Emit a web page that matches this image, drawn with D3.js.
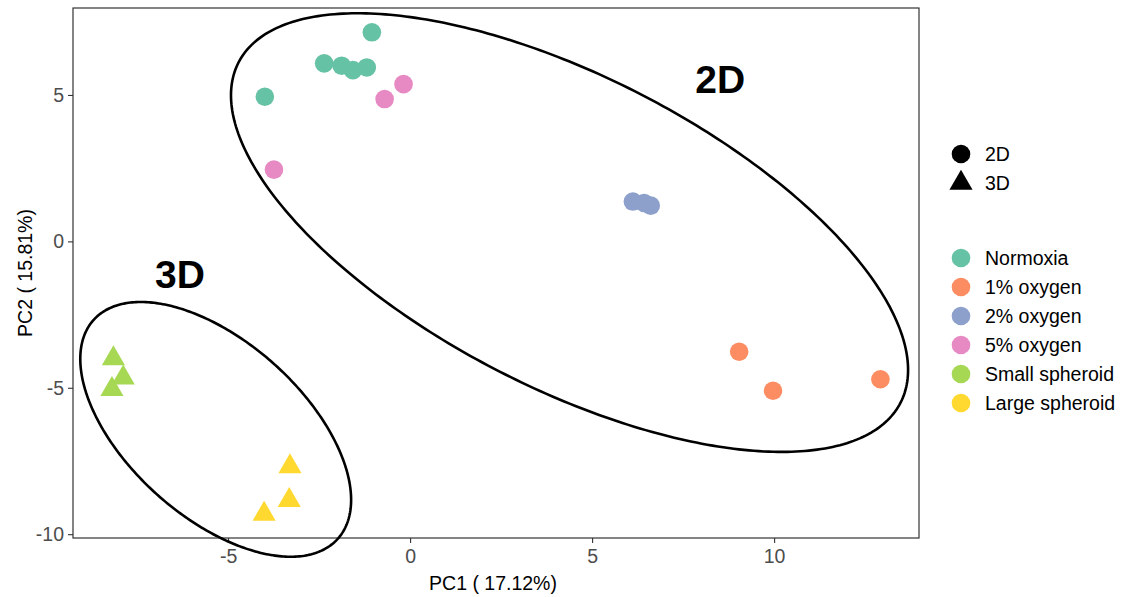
<!DOCTYPE html>
<html>
<head>
<meta charset="utf-8">
<script src="https://cdn.jsdelivr.net/npm/d3@7"></script>
<style>
  html, body { margin: 0; padding: 0; background: #fff; }
  svg { display: block; font-family: "Liberation Sans", Arial, sans-serif; }
</style>
</head>
<body>
<svg id="chart" width="1126" height="597"></svg>
<script>
// Sample groups and their colours (ColorBrewer Set2)
const groups = ["Normoxia", "1% oxygen", "2% oxygen", "5% oxygen", "Small spheroid", "Large spheroid"];
const groupColors = ["#66C2A5", "#FC8D62", "#8DA0CB", "#E78AC3", "#A6D854", "#FFD92F"];
const cultures = ["2D", "3D"];
const groupCulture = ["2D", "2D", "2D", "2D", "3D", "3D"];

// PCA scores per sample
const sampleGroup = [
  "Normoxia", "Normoxia", "Normoxia", "Normoxia", "Normoxia", "Normoxia",
  "5% oxygen", "5% oxygen", "5% oxygen",
  "2% oxygen", "2% oxygen", "2% oxygen",
  "1% oxygen", "1% oxygen", "1% oxygen",
  "Small spheroid", "Small spheroid", "Small spheroid",
  "Large spheroid", "Large spheroid", "Large spheroid"
];
const pc1 = [-1.05, -2.36, -1.88, -1.57, -1.19, -3.99,
             -0.18, -0.70, -3.74,
              6.12,  6.43,  6.61,
              9.04,  9.97, 12.92,
             -8.15, -7.88, -8.19,
             -3.30, -3.32, -4.01];
const pc2 = [ 7.14,  6.08,  6.00,  5.85,  5.94,  4.94,
              5.37,  4.86,  2.45,
              1.36,  1.31,  1.22,
             -3.77, -5.10, -4.71,
             -4.00, -4.66, -5.05,
             -7.69, -8.84, -9.31];

// Confidence ellipses per culture type: centre, half-extents, correlation
const ellipseName = ["2D", "3D"];
const ellipseCx = [4.38, -5.34];
const ellipseCy = [0.30, -6.42];
const ellipseSx = [9.30, 3.72];
const ellipseSy = [7.49, 4.35];
const ellipseRho = [-0.626, -0.553];
const ellipseLabelX = [8.52, -6.32];
const ellipseLabelY = [5.53, -1.11];

// Axis ticks and titles
const xTicks = [-5, 0, 5, 10];
const yTicks = [-10, -5, 0, 5];
const xTitle = "PC1 ( 17.12%)";
const yTitle = "PC2 ( 15.81%)";

const svg = d3.select("#chart");
const panel = { left: 73, right: 919, top: 8, bottom: 538 };

const x = d3.scaleLinear().domain([-9.26, 13.98]).range([panel.left, panel.right]);
const y = d3.scaleLinear().domain([-10.13, 7.97]).range([panel.bottom, panel.top]);
const color = d3.scaleOrdinal().domain(groups).range(groupColors);
const cultureOf = d3.scaleOrdinal().domain(groups).range(groupCulture);
const shape = d3.scaleOrdinal().domain(cultures).range([d3.symbolCircle, d3.symbolTriangle]);
const shapeSize = d3.scaleOrdinal().domain(cultures).range([272, 231]);

const fontSize = 19.5;
const axisColor = "#333333";

// Axes
const xAxis = svg.append("g")
  .attr("transform", `translate(0,${panel.bottom})`)
  .call(d3.axisBottom(x).tickValues(xTicks).tickSize(5).tickPadding(4).tickFormat(d3.format("d")));
const yAxis = svg.append("g")
  .attr("transform", `translate(${panel.left},0)`)
  .call(d3.axisLeft(y).tickValues(yTicks).tickSize(5).tickPadding(4).tickFormat(d3.format("d")));
[xAxis, yAxis].forEach(ax => {
  ax.select(".domain").remove();
  ax.selectAll(".tick line").attr("stroke", axisColor).attr("stroke-width", 1.1);
  ax.selectAll(".tick text")
    .attr("fill", "#4D4D4D")
    .style("font-size", fontSize + "px")
    .style("font-family", "'Liberation Sans', Arial, sans-serif");
});
yAxis.selectAll(".tick text").text(d => d < 0 ? "-" + Math.abs(d) : d);
xAxis.selectAll(".tick text").text(d => d < 0 ? "-" + Math.abs(d) : d).attr("y", 11);

// Panel border
svg.append("rect")
  .attr("x", panel.left).attr("y", panel.top)
  .attr("width", panel.right - panel.left).attr("height", panel.bottom - panel.top)
  .attr("fill", "none").attr("stroke", axisColor).attr("stroke-width", 1.2);

// Points
const samples = pc1.map((v, i) => ({ pc1: v, pc2: pc2[i], group: sampleGroup[i] }));
svg.append("g").selectAll("path")
  .data(samples)
  .join("path")
  .attr("transform", d => `translate(${x(d.pc1)},${y(d.pc2)})`)
  .attr("d", d => d3.symbol().type(shape(cultureOf(d.group))).size(shapeSize(cultureOf(d.group)))())
  .attr("fill", d => color(d.group));

// Ellipses
const ellipses = ellipseName.map((n, i) => ({
  name: n, cx: ellipseCx[i], cy: ellipseCy[i], sx: ellipseSx[i], sy: ellipseSy[i],
  rho: ellipseRho[i], lx: ellipseLabelX[i], ly: ellipseLabelY[i]
}));
const line = d3.line().x(p => x(p[0])).y(p => y(p[1])).curve(d3.curveLinearClosed);
svg.append("g").selectAll("path")
  .data(ellipses)
  .join("path")
  .attr("d", e => {
    const delta = Math.acos(e.rho);
    const pts = d3.range(0, 360, 1).map(a => {
      const t = a * Math.PI / 180;
      return [e.cx + e.sx * Math.cos(t), e.cy + e.sy * Math.cos(t - delta)];
    });
    return line(pts);
  })
  .attr("fill", "none").attr("stroke", "#000").attr("stroke-width", 2.6);

svg.append("g").selectAll("text")
  .data(ellipses)
  .join("text")
  .attr("x", e => x(e.lx)).attr("y", e => y(e.ly))
  .attr("dy", "0.36em")
  .attr("text-anchor", "middle")
  .style("font-size", "39px").style("font-weight", "bold")
  .attr("fill", "#000")
  .text(e => e.name);

// Axis titles
svg.append("text")
  .attr("x", (panel.left + panel.right) / 2 - 3).attr("y", 590)
  .attr("text-anchor", "middle").style("font-size", fontSize + "px").attr("fill", "#000")
  .text(xTitle);
svg.append("text")
  .attr("transform", `translate(32,${(panel.top + panel.bottom) / 2}) rotate(-90)`)
  .attr("text-anchor", "middle").style("font-size", fontSize + "px").attr("fill", "#000")
  .text(yTitle);

// Legend: culture shape
const legendX = 961, labelX = 985;
const shapeLegend = svg.append("g");
cultures.forEach((c, i) => {
  const cyPos = 154 + i * 29;
  shapeLegend.append("path")
    .attr("transform", `translate(${legendX},${cyPos})`)
    .attr("d", d3.symbol().type(shape(c)).size(shapeSize(c))())
    .attr("fill", "#000");
  shapeLegend.append("text")
    .attr("x", labelX).attr("y", cyPos).attr("dy", "0.36em")
    .style("font-size", fontSize + "px").attr("fill", "#000")
    .text(c);
});

// Legend: group colour
const colorLegend = svg.append("g");
groups.forEach((g, i) => {
  const cyPos = 258 + i * 29;
  colorLegend.append("path")
    .attr("transform", `translate(${legendX},${cyPos})`)
    .attr("d", d3.symbol().type(d3.symbolCircle).size(272)())
    .attr("fill", color(g));
  colorLegend.append("text")
    .attr("x", labelX).attr("y", cyPos).attr("dy", "0.36em")
    .style("font-size", fontSize + "px").attr("fill", "#000")
    .text(g);
});
</script>
</body>
</html>
